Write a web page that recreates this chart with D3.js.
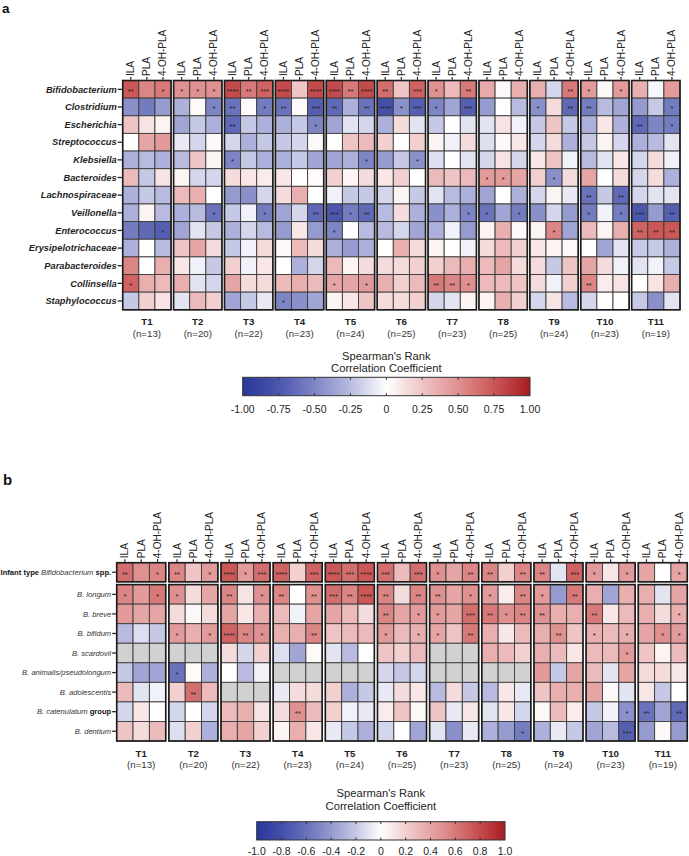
<!DOCTYPE html>
<html><head><meta charset="utf-8">
<script src="https://cdn.jsdelivr.net/npm/d3@7"></script>
<style>
body{margin:0;background:#fff}
svg{display:block;font-family:"Liberation Sans",Arial,sans-serif}
</style>
</head><body>
<svg id="c" width="689" height="856"></svg>
<script>
// ---------------- DATA ----------------
const timepoints = ["T1","T2","T3","T4","T5","T6","T7","T8","T9","T10","T11"];
const sampleSizes = [13,20,22,23,24,25,23,25,24,23,19];
const metabolites = ["ILA","PLA","4-OH-PLA"];

const genera = ["Bifidobacterium","Clostridium","Escherichia","Streptococcus","Klebsiella","Bacteroides",
  "Lachnospiraceae","Veillonella","Enterococcus","Erysipelotrichaceae","Parabacteroides","Collinsella","Staphylococcus"];

// Spearman rho, per genus: 11 timepoints x [ILA, PLA, 4-OH-PLA]
const corrA = [
 [0.75,0.55,0.6, 0.5,0.5,0.5, 0.8,0.6,0.7, 0.8,0.25,0.8, 0.8,0.6,0.8, 0.65,0.25,0.7, 0.5,0.3,0.6, 0.38,0.03,0.35, 0.35,-0.15,0.6, 0.45,0.03,0.45, 0.35,-0.03,0.45],
 [-0.45,-0.55,-0.4, -0.3,0.02,-0.5, -0.6,0.02,-0.55, -0.6,0.02,-0.7, -0.65,-0.3,-0.6, -0.8,-0.45,-0.7, -0.5,-0.35,-0.7, -0.4,0.0,-0.25, -0.45,0.15,-0.65, -0.55,-0.25,-0.35, -0.4,-0.2,-0.55],
 [0.25,0.12,0.05, -0.35,-0.2,-0.3, -0.65,-0.2,-0.3, -0.3,-0.2,-0.5, -0.35,-0.1,-0.15, -0.3,0.15,-0.1, -0.2,0.0,-0.1, -0.1,0.12,-0.05, -0.2,0.25,-0.2, -0.3,0.1,-0.3, -0.65,-0.5,-0.55],
 [0.0,0.4,0.45, -0.08,-0.15,0.03, -0.15,-0.3,-0.2, -0.2,-0.15,0.03, 0.0,0.25,0.3, 0.2,0.0,0.2, 0.05,-0.05,0.15, -0.12,0.03,0.1, -0.15,0.15,-0.3, -0.2,0.05,-0.15, -0.3,-0.25,-0.1],
 [-0.3,-0.25,-0.3, -0.25,0.25,0.05, -0.5,-0.2,-0.3, -0.3,-0.2,-0.35, -0.35,-0.3,-0.5, -0.4,-0.2,-0.45, -0.12,0.0,-0.1, -0.15,0.12,-0.15, 0.1,0.25,-0.05, -0.25,-0.1,0.1, -0.15,0.15,-0.05],
 [0.3,-0.2,0.12, 0.05,-0.15,-0.15, 0.15,0.1,0.08, 0.1,0.0,0.02, 0.2,0.05,0.15, 0.1,0.2,0.0, 0.3,0.25,0.3, 0.45,0.45,0.4, 0.2,-0.45,0.15, 0.4,0.0,0.15, -0.15,0.15,-0.3],
 [-0.3,-0.2,-0.25, 0.3,0.35,0.0, -0.4,-0.45,-0.15, 0.15,0.35,0.0, -0.05,-0.2,-0.2, -0.15,0.05,-0.2, -0.1,-0.25,-0.3, -0.35,0.0,-0.3, -0.15,0.05,-0.08, -0.6,-0.2,-0.65, -0.15,-0.1,-0.1],
 [-0.3,0.05,-0.25, -0.3,-0.25,-0.6, -0.2,-0.05,-0.55, -0.35,-0.15,-0.65, -0.75,-0.55,-0.65, -0.25,0.15,-0.3, -0.45,-0.3,-0.5, -0.6,-0.35,-0.55, -0.45,-0.15,-0.4, -0.55,-0.05,-0.55, -0.75,-0.4,-0.7],
 [-0.55,-0.65,-0.7, -0.35,-0.1,-0.2, -0.3,-0.15,-0.25, -0.4,0.1,-0.4, -0.5,0.0,-0.25, -0.25,-0.15,-0.35, -0.3,-0.05,-0.4, 0.05,0.35,0.03, 0.05,0.55,-0.35, 0.3,0.05,0.35, 0.7,0.75,0.75],
 [-0.3,0.0,-0.25, 0.25,0.4,0.15, -0.2,-0.05,0.15, 0.03,0.3,0.15, -0.3,-0.4,-0.3, 0.0,0.35,0.15, 0.05,0.0,-0.05, 0.15,0.3,0.2, 0.1,0.05,0.03, 0.0,-0.35,-0.1, -0.2,-0.2,-0.3],
 [0.55,0.0,0.35, 0.1,-0.05,-0.2, 0.2,-0.05,0.1, 0.0,-0.3,-0.15, 0.3,0.05,0.15, 0.15,0.15,0.2, 0.2,0.3,0.35, 0.3,0.4,0.15, 0.15,-0.2,0.25, 0.4,0.15,-0.05, -0.1,-0.05,-0.2],
 [0.7,0.35,0.3, 0.35,-0.1,-0.15, 0.4,0.15,0.15, 0.3,0.35,0.3, 0.4,0.4,0.45, 0.35,0.2,0.3, 0.6,0.55,0.5, 0.3,0.3,0.25, 0.15,-0.05,0.2, 0.55,0.08,0.12, 0.0,0.12,0.35],
 [-0.2,0.2,0.12, -0.1,0.3,0.2, -0.35,-0.2,-0.08, -0.5,-0.45,-0.35, 0.05,0.1,0.25, 0.15,0.15,0.2, -0.15,-0.1,0.05, 0.05,0.35,0.2, -0.15,0.12,-0.25, -0.15,0.0,0.0, -0.2,-0.45,-0.1]
];
// number of asterisks per cell, one string per timepoint (ILA, PLA, 4-OH-PLA)
const starsA = [
 ["201","111","423","404","424","203","102","000","002","101","000"],
 ["000","001","201","203","202","413","103","000","102","200","001"],
 ["000","000","200","001","000","000","000","000","000","000","201"],
 ["000","000","000","000","000","000","000","000","000","000","000"],
 ["000","000","100","000","001","001","000","000","000","000","000"],
 ["000","000","000","000","000","000","000","110","010","000","000"],
 ["000","000","000","000","000","000","000","000","000","202","000"],
 ["000","001","001","002","312","000","001","101","000","101","302"],
 ["001","000","000","000","100","000","000","000","010","000","222"],
 ["000","000","000","000","000","000","000","000","000","000","000"],
 ["000","000","000","000","000","000","000","000","000","000","000"],
 ["100","000","000","000","101","000","221","000","000","200","000"],
 ["000","000","000","100","000","000","000","000","000","000","000"]
];

const speciesB = ["Infant type Bifidobacterium spp.","B. longum","B. breve","B. bifidum","B. scardovii",
  "B. animalis/pseudolongum","B. adolescentis","B. catenulatum group","B. dentium"];
const N = null; // not detected
const corrB = [
 [0.65,0.5,0.55, 0.55,0.25,0.45, 0.75,0.45,0.65, 0.7,0.2,0.7, 0.75,0.65,0.75, 0.65,0.3,0.65, 0.5,0.4,0.55, 0.55,0.2,0.55, 0.55,-0.1,0.7, 0.45,0.1,0.45, 0.4,0.0,0.4],
 [0.55,0.45,0.6, 0.5,0.15,0.4, 0.55,0.12,0.5, 0.55,0.0,0.5, 0.65,0.55,0.75, 0.55,0.15,0.55, 0.5,0.4,0.5, 0.45,0.08,0.55, 0.45,-0.4,0.6, 0.35,-0.35,0.35, 0.35,-0.1,0.4],
 [0.45,0.4,0.4, 0.15,0.03,0.15, 0.4,0.1,0.35, 0.3,-0.05,0.4, 0.4,0.3,0.15, 0.55,0.4,0.45, 0.45,0.4,0.65, 0.6,0.5,0.55, 0.5,0.35,0.35, 0.6,0.1,0.3, 0.35,0.15,0.35],
 [-0.25,-0.12,-0.2, 0.45,0.35,0.45, 0.7,0.55,0.5, 0.35,0.35,0.55, 0.25,0.3,0.3, 0.45,0.3,0.35, 0.4,0.25,0.6, 0.35,0.1,0.3, 0.35,0.5,0.25, 0.35,0.3,0.35, 0.4,0.5,0.45],
 [N,N,N, N,N,N, 0.15,-0.15,0.2, -0.12,-0.35,0.02, -0.1,-0.25,0.0, 0.25,0.2,0.3, N,N,N, 0.35,0.3,0.2, 0.35,0.3,0.1, 0.3,0.3,0.45, 0.25,0.05,0.3],
 [-0.2,-0.35,-0.35, -0.6,0.02,-0.3, 0.0,-0.25,-0.05, N,N,N, N,N,N, -0.15,-0.2,-0.15, N,N,N, N,N,N, 0.45,-0.2,0.4, 0.3,-0.1,0.4, 0.15,0.15,0.1],
 [0.3,-0.1,-0.05, 0.2,0.65,0.3, N,N,N, -0.08,0.15,0.15, 0.2,-0.3,-0.2, -0.08,0.15,0.1, -0.25,0.15,-0.2, -0.25,0.1,-0.08, 0.25,0.35,0.35, 0.4,0.03,-0.1, 0.1,-0.2,0.0],
 [-0.15,0.1,0.0, -0.15,0.0,-0.15, 0.3,0.35,0.12, 0.15,0.5,0.3, 0.2,-0.05,-0.08, 0.08,0.25,0.03, 0.25,-0.08,0.1, -0.1,0.1,-0.15, 0.03,0.3,0.08, -0.2,-0.05,-0.45, -0.6,-0.35,-0.65],
 [0.25,0.15,0.3, -0.12,0.2,-0.3, 0.35,0.4,0.2, 0.05,0.35,0.1, -0.08,-0.2,-0.3, -0.15,0.0,-0.35, -0.1,-0.45,-0.08, -0.3,-0.4,-0.55, -0.3,-0.08,-0.2, -0.35,-0.25,-0.7, -0.4,0.03,-0.4]
];
const starsB = [
 ["201","201","413","403","434","303","102","202","203","101","001"],
 ["101","100","201","202","324","202","201","102","102","000","000"],
 ["000","000","000","000","000","201","103","212","200","200","001"],
 ["000","101","421","002","000","101","102","000","020","101","011"],
 ["000","000","000","000","000","000","000","000","000","001","000"],
 ["000","100","000","000","000","000","000","000","000","000","000"],
 ["000","020","000","000","000","000","000","000","000","000","000"],
 ["000","000","000","020","000","000","000","000","000","001","202"],
 ["000","000","000","000","000","000","000","001","000","003","000"]
];

const legendTicksA = [-1,-0.75,-0.5,-0.25,0,0.25,0.5,0.75,1];
const legendLabelsA = ["-1.00","-0.75","-0.50","-0.25","0","0.25","0.50","0.75","1.00"];
const legendTicksB = [-1,-0.8,-0.6,-0.4,-0.2,0,0.2,0.4,0.6,0.8,1];
const legendLabelsB = ["-1.0","-0.8","-0.6","-0.4","-0.2","0","0.2","0.4","0.6","0.8","1.0"];

// ---------------- DRAW ----------------
const svg = d3.select("#c");
const color = d3.scaleLinear()
  .domain([-1,-0.75,-0.5,-0.25,0,0.25,0.5,0.75,1])
  .range(["#28379a","#4b56ac","#7e85c5","#b8bbdf","#ffffff","#efc4c4","#df9090","#cb5757","#a81d22"]);
const naColor = "#d0d1d0";
const ink = "#232323";

function labelWithStyles(sel, text) {
  const boldWords = new Set(["Infant","type","spp.","group"]);
  text.split(" ").forEach((w, i) => {
    const b = boldWords.has(w);
    sel.append("tspan")
      .attr("font-weight", b ? "bold" : "normal")
      .attr("font-style", b ? "normal" : "italic")
      .attr("fill", b ? "#111" : null)
      .text((i ? " " : "") + w);
  });
}

function drawPanel(p) {
  const g = svg.append("g");
  const xG = d3.scaleBand().domain(timepoints).range([p.left, p.right]).paddingInner(p.gap).paddingOuter(0);
  const xC = d3.scaleBand().domain(metabolites).range([0, xG.bandwidth()]);
  const cw = xC.bandwidth();

  p.blocks.forEach(bl => {
    const yS = d3.scaleBand().domain(bl.rows).range(bl.range);
    const rh = yS.bandwidth();
    timepoints.forEach((t, ti) => {
      const gg = g.append("g").attr("transform", `translate(${xG(t)},0)`);
      bl.rows.forEach(r => {
        const ri = p.rows.indexOf(r);
        metabolites.forEach((m, mi) => {
          const v = p.values[ri][ti*3+mi];
          gg.append("rect")
            .attr("x", xC(m)).attr("y", yS(r)).attr("width", cw).attr("height", rh)
            .attr("fill", v === null ? naColor : color(v))
            .attr("stroke", "#3b3b3b").attr("stroke-width", 0.9);
          const ns = +p.stars[ri][ti][mi];
          if (ns > 0) {
            gg.append("text")
              .attr("x", xC(m) + cw/2).attr("y", yS(r) + rh/2 + 4.4)
              .attr("text-anchor", "middle").attr("font-size", 7.5).attr("fill", ink)
              .text("*".repeat(ns));
          }
        });
      });
      gg.append("rect")
        .attr("x", 0).attr("y", bl.range[0]).attr("width", xG.bandwidth()).attr("height", bl.range[1]-bl.range[0])
        .attr("fill", "none").attr("stroke", "#1c1c1c").attr("stroke-width", 1.6);
    });
    bl.rows.forEach(r => {
      const cy = yS(r) + rh/2;
      g.append("line").attr("x1", p.left - p.tickLen).attr("x2", p.left - 0.8)
        .attr("y1", cy).attr("y2", cy).attr("stroke", ink).attr("stroke-width", 1.3);
      const tx = g.append("text").attr("x", p.left - p.tickLen - 1).attr("y", cy).attr("dy", "0.35em")
        .attr("text-anchor", "end").attr("font-size", p.rowFont).attr("fill", p.rowColor);
      if (p.styled) labelWithStyles(tx, r);
      else tx.attr("font-weight", "bold").attr("font-style", "italic").text(r);
    });
  });

  const top = p.blocks[0].range[0];
  timepoints.forEach(t => {
    metabolites.forEach(m => {
      const cx = xG(t) + xC(m) + cw/2;
      g.append("line").attr("x1", cx).attr("x2", cx).attr("y1", top - 3.5).attr("y2", top - 0.8)
        .attr("stroke", ink).attr("stroke-width", 1.2);
      g.append("text").attr("transform", `translate(${cx},${top - 4.5}) rotate(-90)`)
        .attr("dy", "0.35em").attr("font-size", 10).attr("fill", ink).text(m);
    });
  });

  timepoints.forEach((t, ti) => {
    const cx = xG(t) + xG.bandwidth()/2;
    g.append("text").attr("x", cx).attr("y", p.groupY).attr("text-anchor", "middle")
      .attr("font-size", 9.7).attr("font-weight", "bold").attr("fill", ink).text(t);
    g.append("text").attr("x", cx).attr("y", p.groupY + 11.5).attr("text-anchor", "middle")
      .attr("font-size", 9.7).attr("fill", "#333").text(`(n=${sampleSizes[ti]})`);
  });
}

function drawLegend(id, x0, x1, y0, h, titleY, ticks, labels, labelY) {
  const xs = d3.scaleLinear().domain([-1, 1]).range([x0, x1]);
  const grad = svg.append("defs").append("linearGradient").attr("id", id)
    .attr("x1", "0%").attr("x2", "100%").attr("y1", "0%").attr("y2", "0%");
  d3.range(0, 1.0001, 0.05).forEach(f => {
    grad.append("stop").attr("offset", (f*100) + "%").attr("stop-color", color(-1 + 2*f));
  });
  const cx = (x0 + x1)/2;
  svg.append("text").attr("x", cx).attr("y", titleY).attr("text-anchor", "middle")
    .attr("font-size", 11.2).attr("fill", ink).text("Spearman's Rank");
  svg.append("text").attr("x", cx).attr("y", titleY + 12.8).attr("text-anchor", "middle")
    .attr("font-size", 11.2).attr("fill", ink).text("Correlation Coefficient");
  svg.append("rect").attr("x", x0).attr("y", y0).attr("width", x1 - x0).attr("height", h)
    .attr("fill", `url(#${id})`).attr("stroke", "#333").attr("stroke-width", 1);
  ticks.forEach((t, i) => {
    const x = xs(t);
    if (i > 0 && i < ticks.length - 1) {
      svg.append("line").attr("x1", x).attr("x2", x).attr("y1", y0).attr("y2", y0 + 2.5).attr("stroke", "#333");
      svg.append("line").attr("x1", x).attr("x2", x).attr("y1", y0 + h).attr("y2", y0 + h - 2.5).attr("stroke", "#333");
    }
    svg.append("text").attr("x", x).attr("y", labelY).attr("text-anchor", "middle")
      .attr("font-size", 10.5).attr("fill", ink).text(labels[i]);
  });
}

// panel labels
svg.append("text").attr("x", 2).attr("y", 13).attr("font-size", 13.5).attr("font-weight", "bold").attr("fill", "#111").text("a");
svg.append("text").attr("x", 3).attr("y", 485).attr("font-size", 15).attr("font-weight", "bold").attr("fill", "#111").text("b");

drawPanel({
  left: 122.7, right: 680, gap: 0.05, tickLen: 5,
  rows: genera, values: corrA, stars: starsA,
  blocks: [{rows: genera, range: [80.5, 309.8]}],
  rowFont: 9.3, rowColor: "#1f1f1f", styled: false,
  groupY: 325
});
drawLegend("gradA", 242.7, 530, 377.3, 18.4, 359.5, legendTicksA, legendLabelsA, 412.5);

drawPanel({
  left: 116.7, right: 687.3, gap: 0.06, tickLen: 4.5,
  rows: speciesB, values: corrB, stars: starsB,
  blocks: [{rows: speciesB.slice(0,1), range: [562.7, 581.8]},
           {rows: speciesB.slice(1), range: [584.6, 741]}],
  rowFont: 7.6, rowColor: "#333", styled: true,
  groupY: 756.5
});
drawLegend("gradB", 256.7, 505, 821.7, 18.3, 797, legendTicksB, legendLabelsB, 854.5);
</script>
</body></html>
